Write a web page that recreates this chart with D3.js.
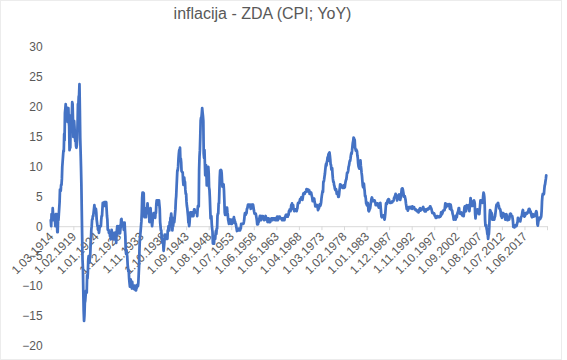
<!DOCTYPE html>
<html><head><meta charset="utf-8">
<script src="https://cdn.jsdelivr.net/npm/d3@7"></script>
<style>body{margin:0;background:#fff}svg{display:block}</style>
</head><body>
<svg id="chart" width="567" height="360"></svg>
<script>
const chartTitle = "inflacija - ZDA (CPI; YoY)";
const firstMonth = "1914-03";
const labelStep = 59; // one category label every 59 months
const tickLabels = ["1.03.1914","1.02.1919","1.01.1924","1.12.1928","1.11.1933","1.10.1938","1.09.1943","1.08.1948","1.07.1953","1.06.1958","1.05.1963","1.04.1968","1.03.1973","1.02.1978","1.01.1983","1.12.1987","1.11.1992","1.10.1997","1.09.2002","1.08.2007","1.07.2012","1.06.2017"];
const yTicks = [-20,-15,-10,-5,0,5,10,15,20,25,30];
// monthly CPI YoY (%), March 1914 - March 2022
const cpiYoY = [
1.0,0.0,2.0,1.0,1.0,3.0,2.0,1.0,1.0,1.0,
1.0,1.0,0.0,2.0,2.0,2.0,1.0,-1.0,-1.0,1.0,1.0,2.0,
3.0,4.0,6.1,6.0,5.9,6.9,6.9,7.9,9.9,10.8,11.7,12.6,
12.5,15.4,14.3,18.9,19.6,20.4,18.5,19.3,19.8,19.5,17.4,18.1,
19.7,17.5,16.7,12.7,13.3,13.1,18.0,18.5,18.0,18.5,20.7,20.4,
17.9,14.9,17.1,17.6,16.6,15.0,14.2,14.9,13.4,13.1,13.5,14.5,
17.0,20.4,20.1,21.6,21.9,23.7,19.5,14.7,12.4,9.9,7.0,2.6,
-1.6,-5.6,-7.0,-10.8,-14.1,-15.8,-14.9,-12.8,-12.5,-11.6,-10.8,-10.8,
-11.1,-8.2,-8.7,-7.7,-5.6,-5.0,-5.2,-6.1,-5.5,-5.0,-3.4,-2.3,
-0.6,0.0,1.1,1.1,1.7,1.7,2.3,2.9,3.5,2.9,2.9,2.3,
2.9,2.3,1.1,0.6,0.0,0.0,-0.6,-0.6,-1.1,-0.6,0.0,0.0,
0.0,0.0,1.1,1.7,1.7,2.8,3.9,3.9,3.4,3.4,4.0,3.4,
3.4,4.0,3.4,4.0,2.8,1.7,1.1,-0.6,-0.6,-0.6,-1.1,-1.1,
-1.1,-1.7,-1.7,-2.2,-1.7,-0.6,-1.1,-1.1,-1.7,-1.7,-2.2,-2.2,
-1.1,-1.7,-1.1,-1.7,-1.1,-2.8,-1.1,-0.6,0.0,-1.1,-0.6,-1.2,
-1.2,0.0,-0.6,-1.2,-0.6,0.0,1.1,1.2,0.0,0.6,0.6,0.6,
0.0,-0.6,-0.6,0.6,-0.6,-1.7,-4.0,-4.6,-4.0,-4.6,-5.1,-6.4,
-7.0,-7.6,-7.6,-8.8,-9.5,-10.1,-9.0,-8.9,-9.6,-9.7,-10.4,-9.3,
-10.1,-10.2,-10.3,-10.3,-10.5,-9.9,-9.9,-10.6,-10.7,-10.7,-10.2,-10.3,
-9.8,-9.9,-10.0,-9.4,-8.0,-6.6,-3.7,-2.2,-1.5,-0.8,0.0,0.8,
2.3,4.7,5.6,5.6,5.6,5.5,2.3,1.5,3.0,2.3,2.3,1.5,
3.0,3.0,3.0,3.8,3.0,2.2,2.2,2.2,0.7,1.5,2.2,3.0,
1.5,0.7,0.7,0.0,0.7,1.5,1.5,2.2,2.2,2.2,1.5,1.4,
2.2,2.2,3.6,4.3,4.3,3.6,4.3,3.6,4.3,4.3,3.6,2.9,
0.7,0.0,-0.7,-0.7,-2.1,-2.1,-2.8,-2.8,-2.8,-4.1,-3.5,-2.8,
-1.4,-1.4,-2.1,-2.1,-2.1,-2.1,-1.4,-2.1,-0.7,-0.7,0.0,0.0,
-0.7,0.7,0.0,1.4,1.4,2.1,1.4,1.4,-0.7,0.0,0.0,0.7,
1.4,0.7,1.4,2.1,2.8,4.3,5.0,6.5,7.9,9.3,9.3,9.9,
11.3,12.1,12.7,12.6,13.1,10.9,11.3,10.7,9.2,9.1,9.0,9.0,
7.6,6.9,7.5,8.1,7.4,7.4,6.1,5.4,5.4,4.1,3.4,3.0,
2.3,1.7,0.6,0.6,0.0,0.6,1.7,2.3,2.3,1.7,1.7,2.3,
2.3,2.3,2.3,1.7,2.3,2.8,2.8,2.3,2.3,2.3,2.3,2.2,
2.2,1.7,2.8,3.4,3.4,3.3,9.4,11.6,12.7,14.9,17.6,18.1,
18.1,18.8,19.7,19.0,18.4,17.6,12.1,11.4,12.7,10.6,8.5,8.8,
10.2,9.3,6.8,8.7,9.1,9.5,9.9,8.9,6.5,6.1,4.8,3.0,
1.3,1.3,1.7,0.4,-0.4,-0.9,-2.9,-2.9,-2.5,-2.9,-1.7,-2.1,
-2.1,-1.3,-0.8,-1.3,-0.4,-0.4,1.7,2.1,2.1,3.8,3.8,5.9,
8.1,9.3,9.3,9.4,9.3,8.8,7.5,6.6,7.0,6.6,7.0,6.0,
4.3,2.3,1.9,2.3,1.9,2.3,3.1,3.1,2.3,1.9,1.1,0.8,
0.4,0.8,1.1,0.8,1.1,1.1,0.4,0.8,0.4,1.1,0.8,0.6,
1.1,1.5,1.1,0.8,0.8,0.4,0.4,0.0,-0.4,-0.8,-0.4,-0.7,
-0.7,-0.7,-0.7,-0.4,-0.7,-0.7,-0.4,-0.4,0.4,0.4,0.4,0.4,
0.4,0.4,0.4,0.7,1.1,1.8,2.2,1.9,1.9,2.2,2.2,2.9,
2.9,3.3,3.6,3.6,3.6,3.3,3.3,3.6,3.3,2.9,3.3,3.0,
3.6,3.2,3.6,3.6,3.2,2.8,2.4,2.1,2.1,2.1,2.1,1.8,
1.4,1.0,0.3,0.3,0.3,0.7,0.7,1.0,1.4,1.7,1.4,1.7,
1.0,1.7,1.7,1.7,1.7,1.7,1.3,1.3,1.0,1.3,1.3,1.4,
1.7,1.4,1.4,1.0,1.0,0.7,1.3,1.0,1.3,0.7,0.7,0.7,
0.7,1.0,1.0,1.3,1.3,1.3,1.0,1.3,1.3,1.3,1.3,1.3,
1.3,1.0,1.3,1.0,1.0,1.3,1.6,1.6,1.0,1.3,1.3,1.6,
1.6,1.6,1.3,1.3,1.3,1.3,1.3,1.0,1.3,1.0,1.3,1.0,
1.0,1.0,1.3,1.6,1.6,1.9,1.6,1.9,1.6,1.9,1.6,1.9,
1.9,2.5,2.5,2.8,2.8,2.5,2.8,3.5,3.5,3.8,3.5,3.5,
3.5,2.8,2.8,2.5,2.8,2.8,2.8,2.8,2.8,2.5,2.8,3.0,
3.6,3.9,3.9,3.9,3.9,4.2,4.5,4.5,4.5,4.8,4.8,4.7,
4.4,4.7,5.2,5.5,5.5,5.5,5.4,5.7,5.7,5.7,5.9,6.2,
6.2,6.1,5.8,6.1,6.1,6.0,6.0,5.4,5.7,5.7,5.6,5.6,
5.3,5.0,4.7,4.2,4.4,4.6,4.4,4.6,4.1,3.8,3.3,3.3,
3.3,3.5,3.5,3.5,3.2,2.7,2.9,2.9,3.2,3.4,3.7,3.4,
3.6,3.9,4.6,5.1,5.5,5.9,5.7,7.4,7.4,7.8,8.3,8.7,
9.4,10.0,10.4,10.1,10.7,10.9,11.5,10.9,11.9,12.1,12.2,12.3,
11.8,11.2,10.3,10.2,9.5,9.4,9.7,8.6,7.9,7.4,7.4,6.9,
6.7,6.3,6.1,6.0,6.2,5.9,5.4,5.7,5.5,5.5,4.9,4.9,
5.2,5.9,6.4,7.0,6.7,6.9,6.8,6.6,6.6,6.4,6.7,6.7,
6.8,6.4,6.6,6.5,7.0,7.4,7.7,7.8,8.3,8.9,8.9,9.0,
9.3,9.9,10.1,10.5,10.9,10.9,11.3,11.8,12.2,12.1,12.6,13.3,
13.9,14.2,14.8,14.7,14.4,14.4,13.1,12.9,12.6,12.8,12.6,12.5,
11.8,11.4,10.5,10.0,9.8,9.6,10.8,10.8,11.0,10.1,9.6,8.9,
8.4,7.6,6.8,6.5,6.7,7.1,6.4,5.9,5.0,5.1,4.6,3.8,
3.7,3.5,3.6,3.9,3.5,2.6,2.5,2.6,2.9,2.9,3.3,3.8,
4.2,4.6,4.8,4.6,4.2,4.2,4.2,4.3,4.3,4.3,4.1,3.9,
3.5,3.5,3.7,3.7,3.8,3.8,3.6,3.3,3.1,3.2,3.5,3.8,
3.9,3.1,2.3,1.6,1.5,1.8,1.6,1.6,1.8,1.5,1.3,1.1,
1.5,2.1,3.0,3.8,3.9,3.7,3.9,4.3,4.4,4.5,4.5,4.4,
4.0,3.9,3.9,3.9,3.9,4.0,4.1,4.0,4.2,4.2,4.2,4.4,
4.7,4.8,5.0,5.1,5.4,5.2,5.0,4.7,4.3,4.5,4.7,4.6,
5.2,5.3,5.2,4.7,4.4,4.7,4.8,5.6,6.2,6.3,6.3,6.1,
5.7,5.3,4.9,4.9,5.0,4.7,4.4,3.8,3.4,2.9,3.0,3.1,
2.6,2.8,3.2,3.2,3.0,3.1,3.2,3.1,3.0,3.2,3.0,2.9,
3.3,3.2,3.1,3.2,3.2,3.0,2.8,2.8,2.7,2.8,2.7,2.7,
2.5,2.5,2.5,2.4,2.3,2.5,2.8,2.9,3.0,2.6,2.7,2.7,
2.8,2.9,2.9,3.1,3.2,3.0,2.8,2.6,2.5,2.8,2.6,2.5,
2.7,2.7,2.8,2.9,2.9,2.8,3.0,2.9,3.0,3.0,3.3,3.3,
3.0,3.0,2.8,2.5,2.2,2.3,2.2,2.2,2.2,2.1,1.8,1.7,
1.6,1.4,1.4,1.4,1.7,1.7,1.7,1.6,1.5,1.5,1.5,1.6,
1.7,1.6,1.7,2.3,2.1,2.0,2.1,2.3,2.6,2.6,2.6,2.7,
2.7,3.2,3.8,3.1,3.2,3.7,3.7,3.4,3.5,3.4,3.4,3.4,
3.7,3.5,2.9,3.3,3.6,3.2,2.7,2.7,2.6,2.1,1.9,1.6,
1.1,1.1,1.5,1.6,1.2,1.1,1.5,1.8,1.5,2.0,2.2,2.4,
2.6,3.0,3.0,2.2,2.1,2.1,2.1,2.2,2.3,2.0,1.8,1.9,
1.9,1.7,1.7,2.3,3.1,3.3,3.0,2.7,2.5,3.2,3.5,3.3,
3.0,3.0,3.1,3.5,2.8,2.5,3.2,3.6,4.7,4.3,3.5,3.4,
4.0,3.6,3.4,3.5,4.2,4.3,4.1,3.8,2.1,1.3,2.0,2.5,
2.1,2.4,2.8,2.6,2.7,2.7,2.4,2.0,2.8,3.5,4.3,4.1,
4.3,4.0,4.0,3.9,4.2,5.0,5.6,5.4,4.9,3.7,1.1,0.1,
0.0,0.2,-0.4,-0.7,-1.3,-1.4,-2.1,-1.5,-1.3,-0.2,1.8,2.7,
2.6,2.1,2.3,2.2,2.0,1.1,1.2,1.1,1.1,1.2,1.1,1.5,
1.6,2.1,2.7,3.2,3.6,3.6,3.6,3.8,3.9,3.5,3.4,3.0,
2.9,2.9,2.7,2.3,1.7,1.7,1.4,1.7,2.0,2.2,1.8,1.7,
1.6,2.0,1.5,1.1,1.4,1.8,2.0,1.5,1.2,1.0,1.2,1.5,
1.6,1.1,1.5,2.0,2.1,2.1,2.0,1.7,1.7,1.7,1.3,0.8,
-0.1,0.0,-0.1,-0.2,0.0,0.1,0.2,0.2,0.0,0.2,0.5,0.7,
1.4,1.0,0.9,1.1,1.0,1.0,0.8,1.1,1.5,1.6,1.7,2.1,
2.5,2.7,2.4,2.2,1.9,1.6,1.7,1.9,2.2,2.0,2.2,2.1,
2.1,2.2,2.4,2.5,2.8,2.9,2.9,2.7,2.3,2.5,2.2,1.9,
1.6,1.5,1.9,2.0,1.8,1.6,1.8,1.7,1.7,1.8,2.1,2.3,
2.5,2.3,1.5,0.3,0.1,0.6,1.0,1.3,1.4,1.2,1.2,1.4,
1.4,1.7,2.6,4.2,5.0,5.4,5.4,5.3,5.4,6.2,6.8,7.0,
7.5,7.9,8.5
];

const svg = d3.select("#chart");
const W = 567, H = 360;
const font = "'Liberation Sans', Arial, sans-serif";
const textCol = "#595959";

svg.append("rect").attr("x",0.5).attr("y",0.5).attr("width",W-6).attr("height",H-1)
  .attr("fill","#fff").attr("stroke","#ececec");

const nTicks = tickLabels.length + 1;
const x = d3.scaleLinear().domain([0, (nTicks - 1) * labelStep]).range([50.8, 547]);
const y = d3.scaleLinear().domain([-20, 30]).range([346, 46.5]);

// title
svg.append("text").attr("x", 262.5).attr("y", 18.5).attr("text-anchor","middle")
  .attr("font-family", font).attr("font-size", 16).attr("fill", textCol).text(chartTitle);

// y axis labels (no line)
const yAxis = d3.axisLeft(y).tickValues(yTicks).tickSize(0).tickPadding(0);
const gy = svg.append("g").attr("transform","translate(42.7,0)").call(yAxis);
gy.select(".domain").remove();
gy.selectAll("text").attr("font-family", font).attr("font-size", 12).attr("fill", textCol);

// category axis at zero
const tickIdx = d3.range(nTicks).map(i => i * labelStep);
const xAxis = d3.axisBottom(x).tickValues(tickIdx).tickSize(4).tickSizeOuter(0)
  .tickFormat((d, i) => tickLabels[i] || "");
const gx = svg.append("g").attr("transform", `translate(0,${y(0)})`).call(xAxis);
gx.select(".domain").attr("stroke", "#d9d9d9");
gx.selectAll(".tick line").attr("stroke", "#d9d9d9");
gx.selectAll(".tick text")
  .attr("font-family", font).attr("font-size", 12).attr("fill", textCol)
  .attr("text-anchor", "end").attr("dy", null).attr("y", null)
  .attr("transform", "translate(3,11) rotate(-45)");

// line
const line = d3.line().x((d, i) => x(i)).y(d => y(d)).curve(d3.curveLinear);
svg.append("path").datum(cpiYoY).attr("d", line).attr("fill","none")
  .attr("stroke","#4472C4").attr("stroke-width",2.75).attr("stroke-linejoin","round").attr("stroke-linecap","round");
</script>
</body></html>
